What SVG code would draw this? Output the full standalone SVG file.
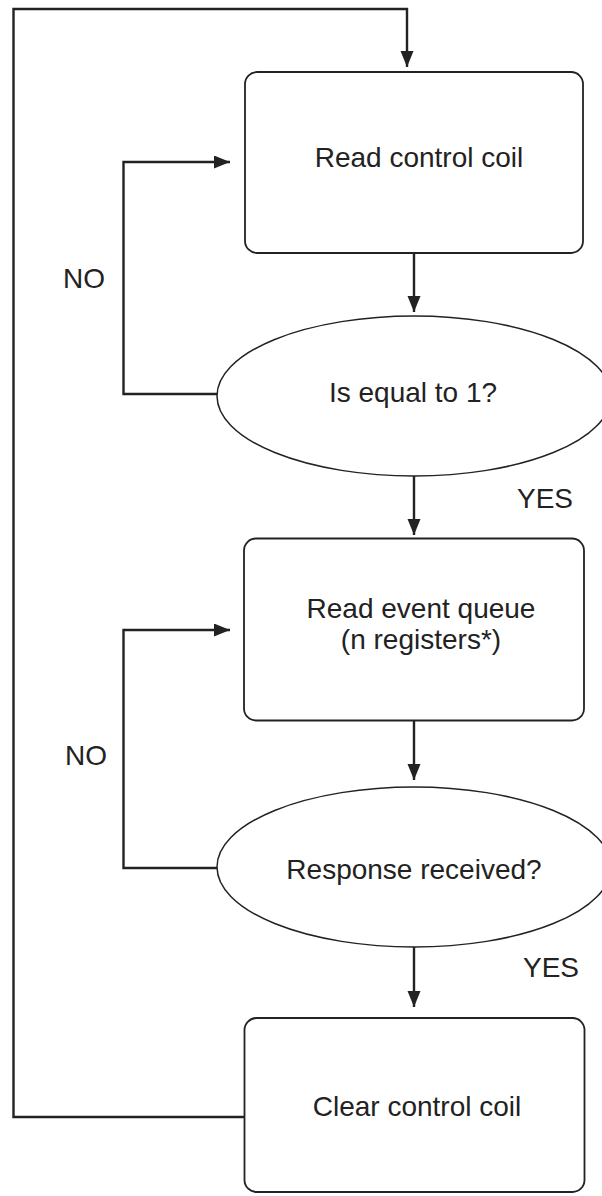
<svg xmlns="http://www.w3.org/2000/svg" width="602" height="1196" viewBox="0 0 602 1196">
<style>
.box{fill:#fff;stroke:#222;stroke-width:1.8}
.ell{fill:#fff;stroke:#222;stroke-width:1.5}
.con{fill:none;stroke:#222;stroke-width:2.4}
.t{font-family:"Liberation Sans",Arial,Helvetica,sans-serif;font-size:28px;fill:#222;text-anchor:middle}
.lbl{font-family:"Liberation Sans",Arial,Helvetica,sans-serif;font-size:28px;fill:#222}
</style>
<defs>
<marker id="ah" markerUnits="userSpaceOnUse" markerWidth="17" markerHeight="14" refX="16" refY="6.5" orient="auto">
<path d="M0,0 L16,6.5 L0,13 z" fill="#222"/>
</marker>
</defs>
<rect width="602" height="1196" fill="#fff"/>
<g id="n1">
<rect class="box" x="245" y="72" width="338" height="181" rx="12"/>
<text class="t" x="419" y="166.5">Read control coil</text>
</g>
<g id="n2">
<ellipse class="ell" cx="414" cy="396" rx="197" ry="80"/>
<text class="t" x="413" y="401.5">Is equal to 1?</text>
</g>
<g id="n3">
<rect class="box" x="244" y="538.5" width="340" height="182" rx="12"/>
<text class="t" x="421" y="618">Read event queue</text>
<text class="t" x="421" y="649">(n registers*)</text>
</g>
<g id="n4">
<ellipse class="ell" cx="414" cy="867" rx="197" ry="80"/>
<text class="t" x="414" y="879">Response received?</text>
</g>
<g id="n5">
<rect class="box" x="244.5" y="1018" width="340" height="174" rx="12"/>
<text class="t" x="417" y="1116">Clear control coil</text>
</g>
<g id="connectors">
<path class="con" d="M245,1117 H13.5 V9 H407 V67" marker-end="url(#ah)"/>
<path class="con" d="M414,253 V312" marker-end="url(#ah)"/>
<path class="con" d="M217,394 H123.5 V162 H230" marker-end="url(#ah)"/>
<path class="con" d="M414,476 V535" marker-end="url(#ah)"/>
<path class="con" d="M414,720.5 V780" marker-end="url(#ah)"/>
<path class="con" d="M217,868 H123.5 V630 H230" marker-end="url(#ah)"/>
<path class="con" d="M414,947 V1007" marker-end="url(#ah)"/>
</g>
<g id="labels">
<text class="lbl" x="63" y="288">NO</text>
<text class="lbl" x="517" y="507.5">YES</text>
<text class="lbl" x="65" y="765">NO</text>
<text class="lbl" x="523" y="977">YES</text>
</g>
</svg>
